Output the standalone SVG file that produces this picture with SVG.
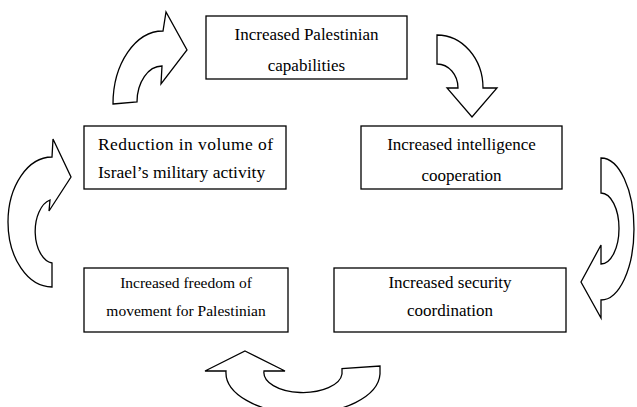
<svg xmlns="http://www.w3.org/2000/svg" width="637" height="407" viewBox="0 0 637 407">
<style>
.box{fill:#fff;stroke:#000;stroke-width:1.3}
.arr{fill:#fff;stroke:#000;stroke-width:1.3;stroke-linejoin:miter}
.t{font-family:"Liberation Serif","Times New Roman",serif;font-size:17px;fill:#000;text-anchor:middle}
.ts{font-family:"Liberation Serif","Times New Roman",serif;font-size:15.5px;fill:#000;text-anchor:middle}
.tl{font-family:"Liberation Serif","Times New Roman",serif;font-size:17.5px;fill:#000}
</style>
<rect width="637" height="407" fill="#fff"/>
<g id="connectors">
<path class="arr" d="M113,104 L137,102 A25 36 0 0 1 162,66 L161,84 L187,50 L166,12 L163,31 A50 73 0 0 0 113,104 Z"/>
<path class="arr" d="M437,35 A46 53 0 0 1 483,88 L497,88 L472,117 L447,88 L458,88 A21 24 0 0 0 437,64 Z"/>
<path class="arr" d="M601,158 A33 71 0 0 1 601,300 L601,318 L581,282 L601,245 L601,264 A18 35.5 0 0 0 601,193 Z"/>
<path class="arr" d="M245,351 L285,371 L264,371 A39 20 0 0 0 342,374 L342,368.5 L380,366 L380,374 A77 41 0 0 1 226,371 L205,371 Z"/>
<path class="arr" d="M52,157 L53,139 L71,177 L49,211 L50,200 A19 32 0 0 0 52,263 L52,287 A44 65 0 0 1 52,157 Z"/>
</g>
<g id="node-capabilities">
<rect class="box" x="206" y="16" width="201" height="63"/>
<text class="t" x="306.5" y="39.5">Increased Palestinian</text>
<text class="t" x="306.5" y="71">capabilities</text>
</g>
<g id="node-intelligence">
<rect class="box" x="361" y="126" width="201" height="63"/>
<text class="t" x="461.5" y="149.5">Increased intelligence</text>
<text class="t" x="461.5" y="181">cooperation</text>
</g>
<g id="node-reduction">
<rect class="box" x="84" y="126" width="202" height="63"/>
<text class="tl" x="98" y="150" textLength="175" lengthAdjust="spacing">Reduction in volume of</text>
<text class="tl" x="98" y="178">Israel’s military activity</text>
</g>
<g id="node-freedom">
<rect class="box" x="84" y="268" width="204" height="64"/>
<text class="ts" x="186" y="288">Increased freedom of</text>
<text class="ts" x="186" y="316">movement for Palestinian</text>
</g>
<g id="node-security">
<rect class="box" x="334" y="268" width="232" height="64"/>
<text class="t" x="450" y="288">Increased security</text>
<text class="t" x="450" y="316">coordination</text>
</g>
</svg>
